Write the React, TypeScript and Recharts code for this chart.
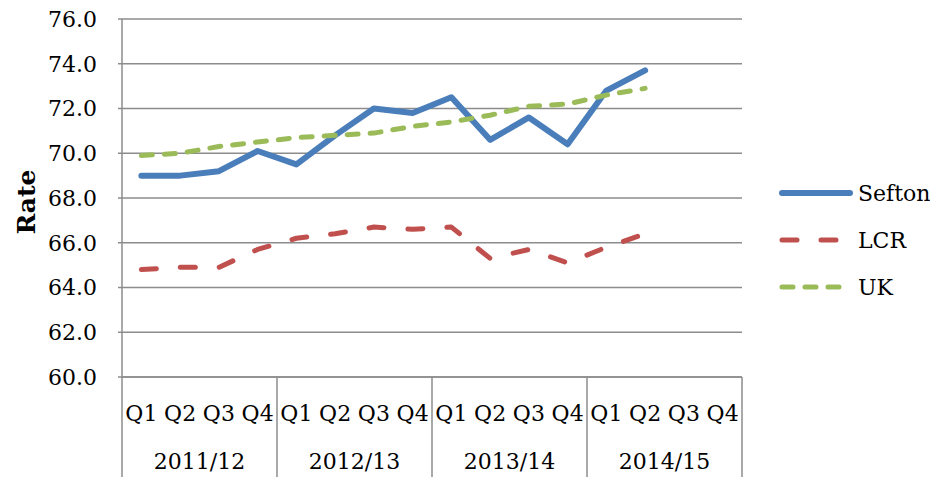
import { LineChart, Line, XAxis, YAxis, CartesianGrid, Legend } from 'recharts'

const quarters = ['Q1', 'Q2', 'Q3', 'Q4', 'Q1', 'Q2', 'Q3', 'Q4', 'Q1', 'Q2', 'Q3', 'Q4', 'Q1', 'Q2', 'Q3', 'Q4']
const years = ['2011/12', '2012/13', '2013/14', '2014/15']
const seriesNames = ['Sefton', 'LCR', 'UK']
const sefton = [69.0, 69.0, 69.2, 70.1, 69.5, 70.8, 72.0, 71.8, 72.5, 70.6, 71.6, 70.4, 72.8, 73.7, null, null]
const lcr = [64.8, 64.9, 64.9, 65.7, 66.2, 66.4, 66.7, 66.6, 66.7, 65.3, 65.7, 65.1, 65.8, 66.4, null, null]
const uk = [69.9, 70.0, 70.3, 70.5, 70.7, 70.8, 70.9, 71.2, 71.4, 71.7, 72.1, 72.2, 72.6, 72.9, null, null]
const yTicks = [60, 62, 64, 66, 68, 70, 72, 74, 76]

const data = quarters.map((q, i) => ({
  id: years[Math.floor(i / 4)] + ' ' + q,
  Sefton: sefton[i],
  LCR: lcr[i],
  UK: uk[i],
}))

const W = 933
const H = 477
const LEFT = 122
const RIGHT = 191
const TOP = 19
const XAXIS_H = 100
const BAND = (W - LEFT - RIGHT) / quarters.length

const FONT = "'DejaVu Serif', serif"
const GRID = '#8c8c8c'

const seriesStyle: Record<string, { color: string; width: number; dash?: string }> = {
  Sefton: { color: '#4a7ebb', width: 6 },
  LCR: { color: '#c0504d', width: 5, dash: '15 24' },
  UK: { color: '#9bbb59', width: 5, dash: '11 12' },
}

const QuarterTick = (props: any) => {
  const { x, y, index } = props
  const half = BAND / 2
  return (
    <g>
      <text x={x} y={y + 36} textAnchor="middle" dominantBaseline="central" fontFamily={FONT} fontSize={22} fill="#000">
        {quarters[index]}
      </text>
      {index % 4 === 1 && (
        <text x={x + half} y={y + 84} textAnchor="middle" dominantBaseline="central" fontFamily={FONT} fontSize={22} fill="#000">
          {years[Math.floor(index / 4)]}
        </text>
      )}
      {index % 4 === 0 && <line x1={x - half} x2={x - half} y1={y} y2={y + XAXIS_H} stroke={GRID} strokeWidth={1.5} />}
      {index === quarters.length - 1 && (
        <line x1={x + half} x2={x + half} y1={y} y2={y + XAXIS_H} stroke={GRID} strokeWidth={1.5} />
      )}
    </g>
  )
}

const RateLabel = (props: any) => {
  const { viewBox } = props
  const cx = viewBox.x + 26
  const cy = viewBox.y + viewBox.height / 2 + 4
  return (
    <text
      x={cx}
      y={cy}
      transform={`rotate(-90, ${cx}, ${cy})`}
      textAnchor="middle"
      dominantBaseline="central"
      fontFamily={FONT}
      fontWeight="bold"
      fontSize={25}
      fill="#000"
    >
      Rate
    </text>
  )
}

const LegendContent = () => (
  <svg width={160} height={140} style={{ display: 'block' }}>
    {seriesNames.map((name, i) => {
      const s = seriesStyle[name]
      const cy = 23 + i * 47
      return (
        <g key={name}>
          <line
            x1={12}
            x2={s.dash ? 72 : 80}
            y1={cy}
            y2={cy}
            stroke={s.color}
            strokeWidth={s.width}
            strokeDasharray={s.dash}
            strokeLinecap="round"
          />
          <text x={88} y={cy} dominantBaseline="central" fontFamily={FONT} fontSize={22} fill="#000">
            {name}
          </text>
        </g>
      )
    })}
  </svg>
)

export default function App() {
  return (
    <div style={{ position: 'absolute', left: 0, top: 0, width: W, height: H, background: '#fff' }}>
      <LineChart width={W} height={H} data={data} margin={{ top: TOP, right: RIGHT, left: 0, bottom: 0 }}>
        <CartesianGrid vertical={false} stroke={GRID} strokeWidth={1.5} />
        <XAxis
          dataKey="id"
          height={XAXIS_H}
          interval={0}
          padding={{ left: BAND / 2, right: BAND / 2 }}
          tickSize={0}
          tickMargin={0}
          tickLine={false}
          axisLine={{ stroke: GRID, strokeWidth: 1.5 }}
          tick={<QuarterTick />}
        />
        <YAxis
          width={LEFT}
          domain={[60, 76]}
          ticks={yTicks}
          tickFormatter={(v: number) => v.toFixed(1)}
          tickSize={4}
          tickMargin={21}
          axisLine={{ stroke: GRID, strokeWidth: 1.5 }}
          tickLine={{ stroke: GRID, strokeWidth: 1.5 }}
          tick={{ fontFamily: FONT, fontSize: 22, fill: '#000' }}
          label={<RateLabel />}
        />
        <Legend
          layout="vertical"
          align="center"
          verticalAlign="middle"
          wrapperStyle={{ left: 770, top: 170, width: 160 }}
          content={<LegendContent />}
        />
        <Line
          dataKey="Sefton"
          stroke={seriesStyle.Sefton.color}
          strokeWidth={seriesStyle.Sefton.width}
          strokeLinecap="round"
          strokeLinejoin="round"
          dot={false}
          isAnimationActive={false}
        />
        <Line
          dataKey="LCR"
          stroke={seriesStyle.LCR.color}
          strokeWidth={seriesStyle.LCR.width}
          strokeDasharray={seriesStyle.LCR.dash}
          strokeLinecap="round"
          strokeLinejoin="round"
          dot={false}
          isAnimationActive={false}
        />
        <Line
          dataKey="UK"
          stroke={seriesStyle.UK.color}
          strokeWidth={seriesStyle.UK.width}
          strokeDasharray={seriesStyle.UK.dash}
          strokeLinecap="round"
          strokeLinejoin="round"
          dot={false}
          isAnimationActive={false}
        />
      </LineChart>
    </div>
  )
}
